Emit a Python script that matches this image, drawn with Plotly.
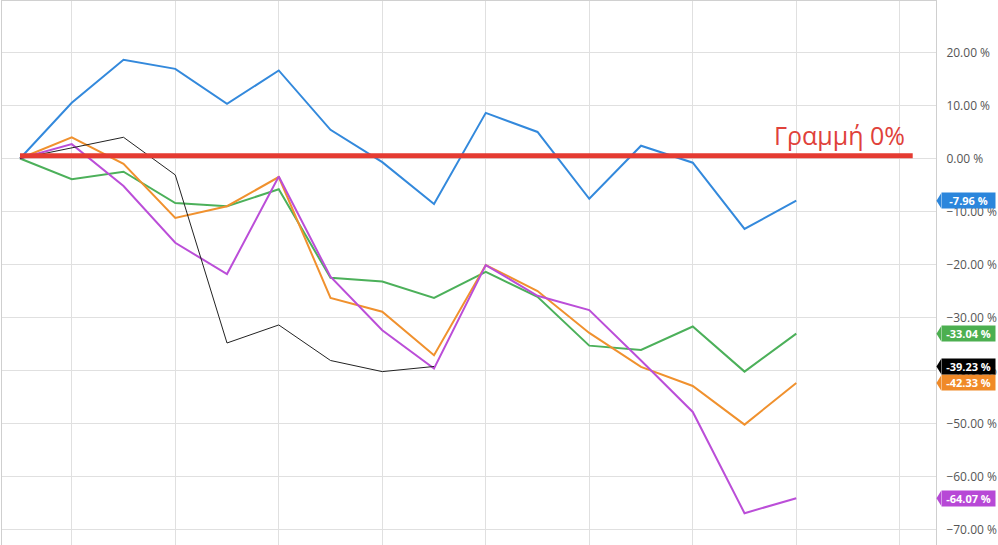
import plotly.graph_objects as go

periods = list(range(16))

blue = [0, 10.5, 18.6, 16.9, 10.3, 16.6, 5.4, -0.7, -8.6, 8.6, 5.0, -7.6, 2.4, -0.8, -13.3, -7.96]
orange = [0, 4.0, -1.0, -11.2, -9.0, -3.5, -26.3, -28.9, -37.1, -20.1, -25.0, -32.9, -39.3, -42.9, -50.2, -42.33]
green = [0, -3.9, -2.5, -8.4, -9.0, -5.8, -22.5, -23.2, -26.3, -21.4, -26.1, -35.3, -36.1, -31.7, -40.2, -33.04]
purple = [0, 2.7, -5.2, -15.9, -21.8, -3.4, -22.3, -32.4, -39.6, -20.1, -25.9, -28.6, -38.1, -47.8, -66.9, -64.07]
black = [0, 2.0, 4.0, -3.1, -34.8, -31.4, -38.1, -40.2, -39.23]

zero_line_value = 0.5
zero_line_x = [0, 17.25]
zero_line_text = "Γραμμή 0%"

series = [
    ("blue", blue, "#3389dc", 2),
    ("green", green, "#4cb05a", 2),
    ("orange", orange, "#f0912e", 2),
    ("purple", purple, "#bb4ed8", 2),
    ("black", black, "#222222", 1),
]
badge_colors = {"blue": "#2b86dc", "green": "#4caf50", "orange": "#f08a28", "purple": "#b748d6", "black": "#000000"}
badge_order = ["blue", "green", "orange", "black", "purple"]

fig = go.Figure()
for name, vals, color, w in series:
    fig.add_trace(go.Scatter(x=periods[:len(vals)], y=vals, mode="lines",
                             line=dict(color=color, width=w), name=name, showlegend=False,
                             hoverinfo="skip"))

fig.add_trace(go.Scatter(x=zero_line_x, y=[zero_line_value] * 2, mode="lines",
                         line=dict(color="#e53b32", width=5), showlegend=False, hoverinfo="skip"))

fig.add_annotation(x=0.969, xref="paper", y=4.4, yref="y", text=zero_line_text,
                   showarrow=False, xanchor="right", yanchor="middle",
                   font=dict(family="Open Sans", size=25, color="#e0413a"))

data = {n: v for n, v, c, w in series}
for name in badge_order:
    v = data[name][-1]
    col = badge_colors[name]
    fig.add_annotation(x=1.0054, xref="paper", y=v, yref="y", text="<b>%.2f %%</b>" % v,
                       showarrow=False, xanchor="left", yanchor="middle",
                       bgcolor=col, width=49, height=11, borderpad=2,
                       font=dict(family="Open Sans", size=11, color="white"))
    fig.add_shape(type="path", xref="paper", yref="y",
                  path="M 1.0005 %f L 1.0055 %f L 1.0055 %f Z" % (v, v + 1.42, v - 1.42),
                  fillcolor=col, line=dict(width=0))

fig.update_layout(
    width=998, height=545,
    margin=dict(l=2, r=62, t=1, b=0),
    plot_bgcolor="white", paper_bgcolor="white",
    xaxis=dict(range=[-0.348, 17.7], showticklabels=False, tick0=1, dtick=2,
               showgrid=True, gridcolor="#e0e0e0", gridwidth=1, zeroline=False,
               showline=True, linecolor="#d0d0d0", mirror=True),
    yaxis=dict(range=[-72.9, 29.7], side="right", tick0=0, dtick=10,
               tickformat=".2f", ticksuffix=" %", showgrid=True, gridcolor="#e0e0e0",
               zeroline=False, showline=True, linecolor="#cfcfcf", mirror=True,
               tickfont=dict(family="Open Sans", size=12, color="#555555"),
               ticks="", ticklabelstandoff=7),
)

fig.write_html("out.html", config={"displayModeBar": False},
               post_script="document.body.style.margin='0';document.body.style.overflow='hidden';")
